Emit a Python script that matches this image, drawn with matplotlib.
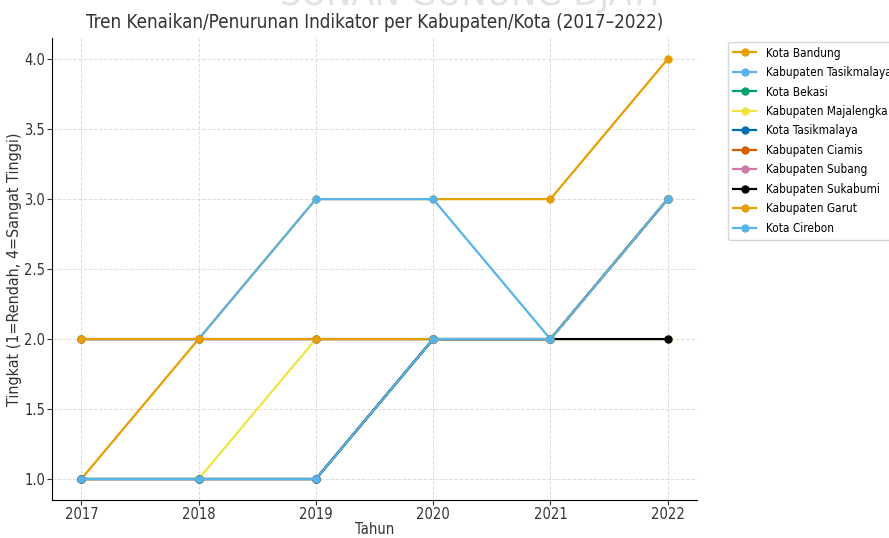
import matplotlib.pyplot as plt

plt.rcParams['font.family'] = ['DejaVu Sans']
plt.rcParams['font.stretch'] = 'condensed'

years = [2017, 2018, 2019, 2020, 2021, 2022]

# urutan sesuai legenda (yang terakhir digambar paling atas)
regions = [
    'Kota Bandung', 'Kabupaten Tasikmalaya', 'Kota Bekasi', 'Kabupaten Majalengka',
    'Kota Tasikmalaya', 'Kabupaten Ciamis', 'Kabupaten Subang', 'Kabupaten Sukabumi',
    'Kabupaten Garut', 'Kota Cirebon',
]
kota_bandung = [1, 2, 3, 3, 3, 4]
kab_tasikmalaya = [2, 2, 3, 3, 2, 3]
kota_bekasi = [1, 1, 1, 2, 2, 3]
kab_majalengka = [1, 1, 2, 2, 2, 2]
kota_tasikmalaya = [2, 2, 2, 2, 2, 3]
kab_ciamis = [1, 1, 1, 2, 2, 3]
kab_subang = [2, 2, 2, 2, 2, 3]
kab_sukabumi = [1, 1, 1, 2, 2, 2]
kab_garut = [2, 2, 2, 2, 2, 3]
kota_cirebon = [1, 1, 1, 2, 2, 3]

series = [kota_bandung, kab_tasikmalaya, kota_bekasi, kab_majalengka, kota_tasikmalaya,
          kab_ciamis, kab_subang, kab_sukabumi, kab_garut, kota_cirebon]

colors = ['#E69F00', '#56B4E9', '#009E73', '#F0E442', '#0072B2',
          '#D55E00', '#CC79A7', '#000000', '#E69F00', '#56B4E9']

fig = plt.figure(figsize=(8.89, 5.38), dpi=100)
ax = fig.add_axes([0.0585, 0.0706, 0.7255, 0.8584])

for name, vals, c in zip(regions, series, colors):
    ax.plot(years, vals, marker='o', markersize=5, linewidth=1.6, color=c, label=name)

# watermark samar di atas (terpotong di tepi atas)
fig.text(0.528, 0.990, 'SUNAN GUNUNG DJATI', ha='center', va='baseline',
         fontsize=27, color='#e2e2e2', zorder=0)

ax.set_title('Tren Kenaikan/Penurunan Indikator per Kabupaten/Kota (2017–2022)',
             fontsize=13.5, color='#333333', pad=7)
ax.set_xlabel('Tahun', fontsize=10.5, color='#333333', labelpad=0)
ax.set_ylabel('Tingkat (1=Rendah, 4=Sangat Tinggi)', fontsize=11.5, color='#333333')
ax.yaxis.set_label_coords(-0.047, 0.5)
ax.set_xticks(years)
ax.tick_params(labelsize=10.5, colors='#333333', length=3.5, pad=1.5)
ax.grid(True, linestyle='--', color='#dddddd', linewidth=0.7)
ax.spines['top'].set_visible(False)
ax.spines['right'].set_visible(False)

ax.legend(loc='upper left', bbox_to_anchor=(1.039, 1.005), fontsize=8.5,
          frameon=True, edgecolor='#cccccc', labelspacing=0.55, handlelength=2.0)

fig.savefig('out.png', dpi=100)
